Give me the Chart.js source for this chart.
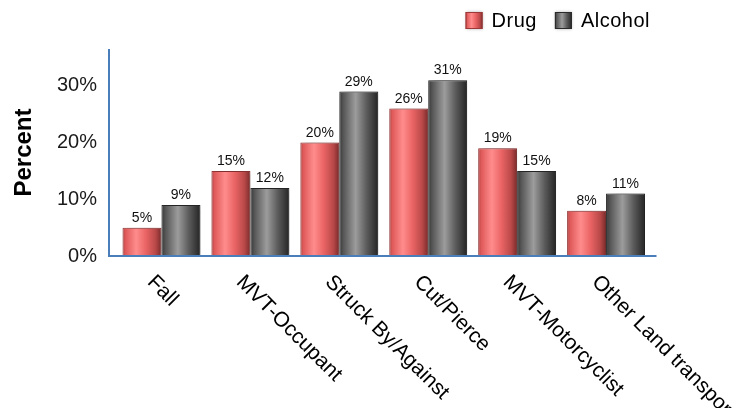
<!DOCTYPE html>
<html lang="en">
<head>
  <meta charset="UTF-8">
  <title>Drug and Alcohol by Injury Mechanism</title>
  <script src="https://cdn.jsdelivr.net/npm/chart.js"></script>
  <style>
    html, body {
      margin: 0;
      padding: 0;
      background: #ffffff;
    }
    canvas {
      display: block;
    }
  </style>
</head>
<body>
  <canvas id="injuryChart" width="752" height="408"></canvas>

  <script>
    // Injury mechanism categories and the share (%) positive for each substance
    const categories = ['Fall', 'MVT-Occupant', 'Struck By/Against', 'Cut/Pierce', 'MVT-Motorcyclist', 'Other Land transportation'];
    const drugPct = [5, 15, 20, 26, 19, 8];
    const alcoholPct = [9, 12, 29, 31, 15, 11];
    const yTicks = [0, 10, 20, 30];
    const yMax = 36.5;

    const FONT = '"Liberation Sans", Arial, sans-serif';
    const AXIS_BLUE = '#4a7ebb';

    // Shaded "cylinder" look for each series
    const shades = {
      Drug: [[0, '#b04444'], [0.08, '#e05a5a'], [0.35, '#ff8c8c'], [0.6, '#ea6464'], [0.85, '#b84848'], [1, '#7a2a2a']],
      Alcohol: [[0, '#363636'], [0.1, '#555555'], [0.42, '#9c9c9c'], [0.7, '#5c5c5c'], [1, '#242424']]
    };

    function shadeFill(ctx, name, left, right) {
      const g = ctx.createLinearGradient(left, 0, right, 0);
      shades[name].forEach(([stop, color]) => g.addColorStop(stop, color));
      return g;
    }

    // Apply per-bar gradients before the bars are painted
    const barShading = {
      id: 'barShading',
      beforeDatasetsDraw(chart) {
        const ctx = chart.ctx;
        chart.data.datasets.forEach((ds, i) => {
          chart.getDatasetMeta(i).data.forEach(bar => {
            const { x, width } = bar.getProps(['x', 'width'], true);
            bar.options = Object.assign({}, bar.options, {
              backgroundColor: shadeFill(ctx, ds.label, x - width / 2, x + width / 2)
            });
          });
        });
      },
      beforeDatasetDraw(chart) {
        const ctx = chart.ctx;
        ctx.save();
        ctx.shadowColor = 'rgba(0, 0, 0, 0.35)';
        ctx.shadowBlur = 6;
        ctx.shadowOffsetX = 3;
        ctx.shadowOffsetY = 0;
      },
      afterDatasetDraw(chart) {
        chart.ctx.restore();
      }
    };

    // Blue axis lines, running a little past the category band
    const axisLines = {
      id: 'axisLines',
      afterDatasetsDraw(chart) {
        const { ctx, chartArea } = chart;
        const y0 = chart.scales.y.getPixelForValue(0);
        const x0 = chartArea.left - 8;
        ctx.save();
        ctx.strokeStyle = AXIS_BLUE;
        ctx.lineWidth = 2;
        ctx.beginPath();
        ctx.moveTo(x0, chartArea.top);
        ctx.lineTo(x0, y0 + 1);
        ctx.moveTo(x0 - 1, y0);
        ctx.lineTo(chartArea.right + 6, y0);
        ctx.stroke();
        ctx.restore();
      }
    };

    // Percent labels over each bar
    const valueLabels = {
      id: 'valueLabels',
      afterDatasetsDraw(chart) {
        const ctx = chart.ctx;
        ctx.save();
        ctx.font = '14px ' + FONT;
        ctx.fillStyle = '#111111';
        ctx.textAlign = 'center';
        ctx.textBaseline = 'alphabetic';
        chart.data.datasets.forEach((ds, i) => {
          chart.getDatasetMeta(i).data.forEach((bar, j) => {
            ctx.fillText(ds.data[j] + '%', bar.x, bar.y - 6);
          });
        });
        ctx.restore();
      }
    };

    // Category names slanted downward under the axis
    const slantedCategories = {
      id: 'slantedCategories',
      afterDraw(chart) {
        const { ctx, chartArea } = chart;
        const xs = chart.scales.x;
        ctx.save();
        ctx.font = '21px ' + FONT;
        ctx.fillStyle = '#000000';
        ctx.textAlign = 'left';
        ctx.textBaseline = 'alphabetic';
        categories.forEach((name, i) => {
          ctx.save();
          ctx.translate(xs.getPixelForValue(i) - 15, chartArea.bottom + 27);
          ctx.rotate(Math.PI / 4);
          ctx.fillText(name, 0, 0);
          ctx.restore();
        });
        ctx.restore();
      }
    };

    // Legend in the top right corner
    const cornerLegend = {
      id: 'cornerLegend',
      afterDraw(chart) {
        const ctx = chart.ctx;
        const box = 17, gap = 9, between = 18, right = 650, cy = 20.5;
        ctx.save();
        ctx.font = '20px ' + FONT;
        ctx.letterSpacing = '0.5px';
        const items = chart.data.datasets.map(ds => ({ name: ds.label, border: ds.borderColor, w: ctx.measureText(ds.label).width }));
        let total = items.reduce((s, it) => s + box + gap + it.w, 0) + between * (items.length - 1);
        let x = right - total;
        ctx.textBaseline = 'middle';
        items.forEach(it => {
          ctx.shadowColor = 'rgba(0, 0, 0, 0.3)';
          ctx.shadowBlur = 3;
          ctx.fillStyle = shadeFill(ctx, it.name, x, x + box);
          ctx.fillRect(x, cy - box / 2, box, box);
          ctx.shadowColor = 'transparent';
          ctx.strokeStyle = it.border;
          ctx.lineWidth = 1;
          ctx.strokeRect(x + 0.5, cy - box / 2 + 0.5, box - 1, box - 1);
          ctx.fillStyle = '#000000';
          ctx.fillText(it.name, x + box + gap, cy + 1);
          x += box + gap + it.w + between;
        });
        ctx.restore();
      }
    };

    new Chart(document.getElementById('injuryChart'), {
      type: 'bar',
      data: {
        labels: categories,
        datasets: [
          {
            label: 'Drug',
            data: drugPct,
            backgroundColor: '#f06464',
            borderColor: '#9c3838',
            borderWidth: 1,
            borderSkipped: 'bottom'
          },
          {
            label: 'Alcohol',
            data: alcoholPct,
            backgroundColor: '#6e6e6e',
            borderColor: '#2a2a2a',
            borderWidth: 1,
            borderSkipped: 'bottom'
          }
        ]
      },
      options: {
        responsive: false,
        animation: false,
        devicePixelRatio: 1,
        categoryPercentage: 0.876,
        barPercentage: 1.0,
        layout: {
          padding: { top: 49, right: 101.5, bottom: 0, left: 0 }
        },
        plugins: {
          legend: { display: false },
          tooltip: { enabled: false }
        },
        scales: {
          x: {
            grid: { display: false, drawTicks: false },
            border: { display: false },
            ticks: { display: false },
            afterFit(scale) { scale.height = 152; }
          },
          y: {
            min: 0,
            max: yMax,
            grid: { display: false, drawTicks: false },
            border: { display: false },
            afterBuildTicks(scale) {
              scale.ticks = yTicks.map(v => ({ value: v }));
            },
            ticks: {
              padding: 20,
              color: '#1a1a1a',
              font: { family: FONT, size: 20 },
              callback: v => v + '%'
            },
            title: {
              display: true,
              text: 'Percent',
              color: '#000000',
              padding: { top: 10, bottom: 0 },
              font: { family: FONT, size: 24, weight: 'bold' }
            },
            afterFit(scale) { scale.width = 117; }
          }
        }
      },
      plugins: [barShading, axisLines, valueLabels, slantedCategories, cornerLegend]
    });
  </script>
</body>
</html>
